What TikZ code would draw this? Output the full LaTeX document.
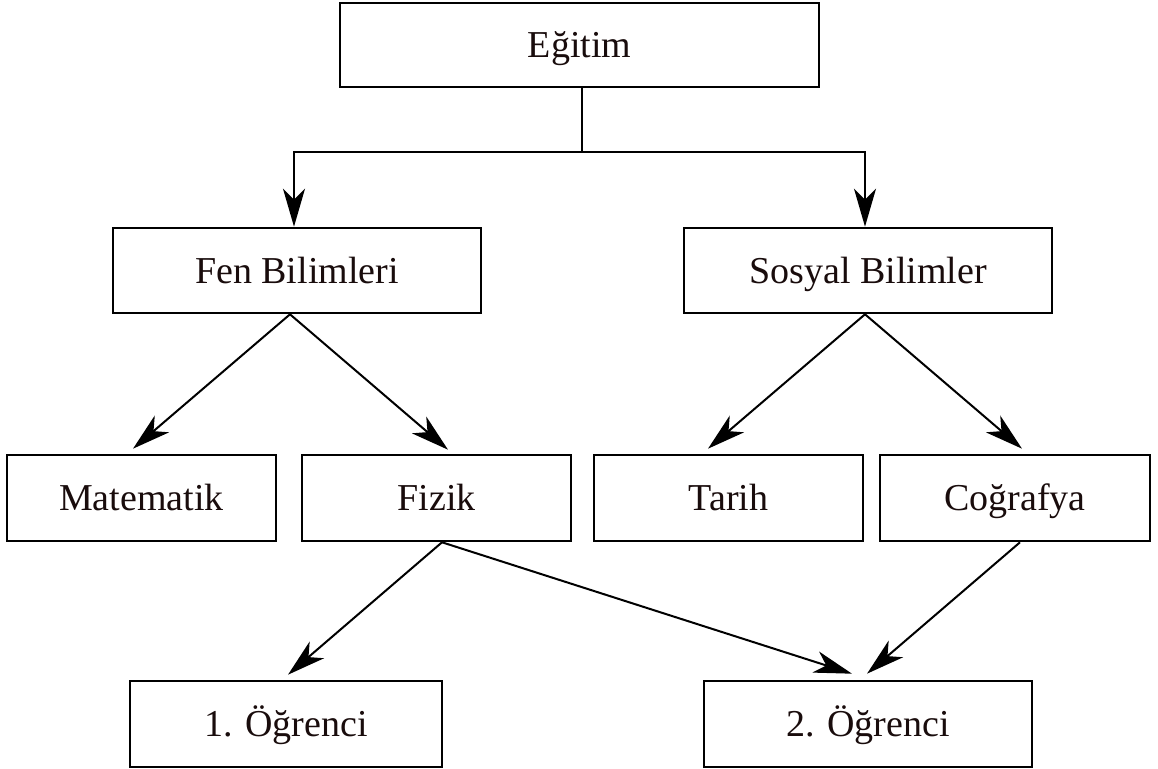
\documentclass[tikz,border=0pt]{standalone}
\usepackage{fontspec}
\setmainfont{Liberation Serif}
\usetikzlibrary{arrows.meta}
\definecolor{ink}{RGB}{25,12,12}
\begin{document}
\begin{tikzpicture}[x=0.5pt,y=-0.5pt,
  box/.style={draw=black, line width=1.3pt, inner sep=0pt, minimum height=43pt,
    text height=12.6pt, text depth=0pt,
    font=\fontsize{19}{22}\selectfont, text=ink},
  link/.style={line width=1pt, -{Stealth[length=19pt,width=11pt,inset=5.5pt]}},
  plain/.style={line width=1pt}]
\useasboundingbox (0,0) rectangle (1158,769);
\fill[white] (0,0) rectangle (1158,769);
\node[box, minimum width=239.5pt, minimum height=42pt] (edu) at (579.5,45) {Eğitim};
\node[box, minimum width=184pt, minimum height=42.5pt] (fen) at (297,270.5) {Fen Bilimleri};
\node[box, minimum width=184pt, minimum height=42.5pt] (sos) at (868,270.5) {Sosyal Bilimler};
\node[box, minimum width=134.5pt] (mat) at (141.5,498) {Matematik};
\node[box, minimum width=134.5pt] (fiz) at (436.5,498) {Fizik};
\node[box, minimum width=134.5pt] (tar) at (728.5,498) {Tarih};
\node[box, minimum width=135pt] (cog) at (1015,498) {Coğrafya};
\node[box, minimum width=156pt] (s1) at (286,724) {1. Öğrenci};
\node[box, minimum width=164pt] (s2) at (868,724) {2. Öğrenci};
\coordinate (j) at (582,152);
\draw[plain] ([xshift=1.25pt]edu.south) -- ([xshift=1.25pt]edu.south |- j);
\draw[link] ([xshift=1.25pt]edu.south |- j) -| ([xshift=-1.5pt]fen.north);
\draw[link] ([xshift=1.25pt]edu.south |- j) -| ([xshift=-1.5pt]sos.north);
\draw[link] ([shift={(-7,0)}]fen.south) -- ([shift={(-8.5,-5)}]mat.north);
\draw[link] ([shift={(-7,0)}]fen.south) -- ([shift={(11.5,-4)}]fiz.north);
\draw[link] ([shift={(-3,0)}]sos.south) -- ([shift={(-20.5,-5)}]tar.north);
\draw[link] ([shift={(-3,0)}]sos.south) -- ([shift={(7,-5)}]cog.north);
\draw[link] ([shift={(5.5,0)}]fiz.south) -- ([shift={(2,-5)}]s1.north);
\draw[link] ([shift={(5.5,0)}]fiz.south) -- ([shift={(-16,-6)}]s2.north);
\draw[link] ([shift={(5,0)}]cog.south) -- ([shift={(-1,-6)}]s2.north);
\end{tikzpicture}
\end{document}
